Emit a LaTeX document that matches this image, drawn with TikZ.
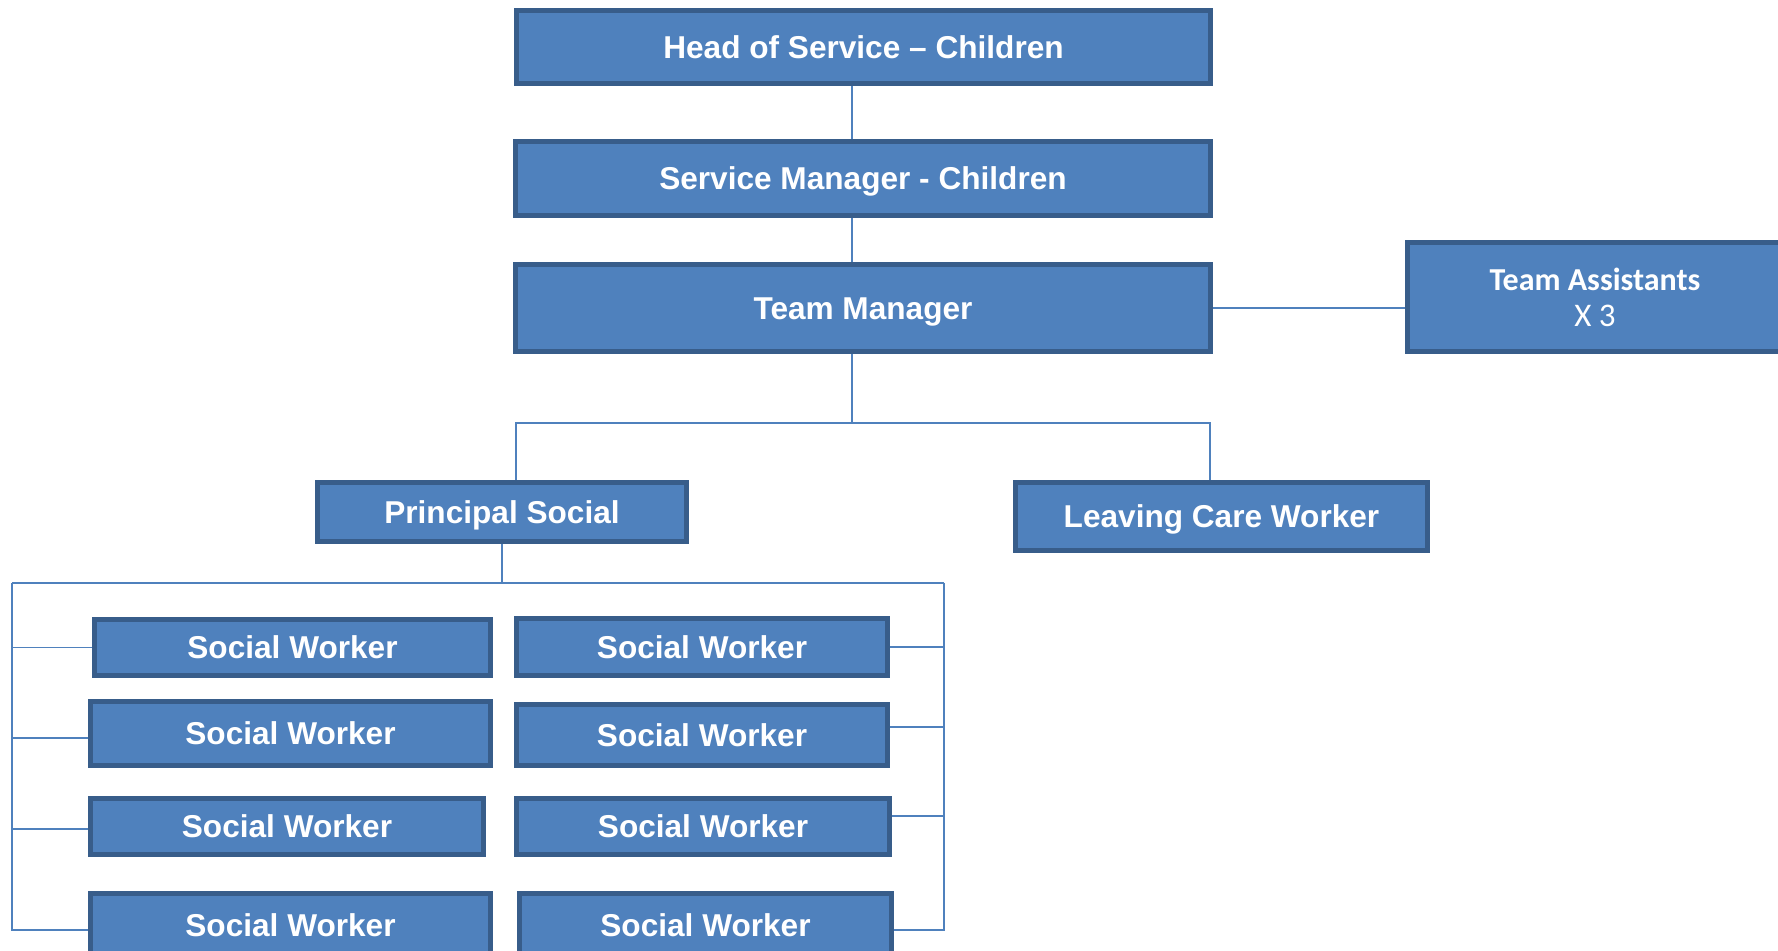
\documentclass[tikz,border=0pt]{standalone}
\usepackage{fontspec}
\setmainfont{Liberation Sans}
\newfontfamily\calibri{Carlito}
\definecolor{boxblue}{HTML}{4F81BD}
\definecolor{boxedge}{HTML}{385D8A}
\tikzset{
  post/.style={draw=boxedge, fill=boxblue, line width=2.5pt, inner sep=0pt,
    text=white, font=\bfseries\fontsize{15.8}{19}\selectfont,
    text height=11.3pt, text depth=0pt},
  link/.style={draw=boxblue, line width=0.85pt}
}
\begin{document}
\begin{tikzpicture}[x=0.5pt, y=-0.5pt]
  \clip (0,0) rectangle (1778,951);
  \fill[white] (0,0) rectangle (1778,951);
  \node[post, minimum width=347pt, minimum height=36.5pt] (head) at (863.5,47) {Head of Service -- Children};
  \node[post, minimum width=347.5pt, minimum height=37pt] (svcmgr) at (863,178.5) {Service Manager - Children};
  \node[post, minimum width=347.5pt, minimum height=43.5pt] (teammgr) at (863,308) {Team Manager};
  \node[post, minimum width=187.5pt, minimum height=54.5pt, text height=, text depth=,
    align=center, font=\calibri\fontsize{16}{19}\selectfont] (assist) at (1595,297)
    {\textbf{Team Assistants}\\[-1pt]\fontsize{16.5}{19}\selectfont X 3};
  \node[post, minimum width=184.5pt, minimum height=29.5pt] (principal) at (502,512) {Principal Social};
  \node[post, minimum width=206pt, minimum height=34pt] (leaving) at (1221.5,516.5) {Leaving Care Worker};
  \node[post, minimum width=198pt, minimum height=28pt] (sw1) at (292.5,647.5) {Social Worker};
  \node[post, minimum width=200pt, minimum height=32pt] (sw2) at (290.5,733.5) {Social Worker};
  \node[post, minimum width=196.5pt, minimum height=28pt] (sw3) at (287,826.5) {Social Worker};
  \node[post, minimum width=200pt, minimum height=31.5pt] (sw4) at (290.5,925) {Social Worker};
  \node[post, minimum width=185.5pt, minimum height=28.5pt] (sw5) at (702,647) {Social Worker};
  \node[post, minimum width=185.5pt, minimum height=30.5pt] (sw6) at (702,735) {Social Worker};
  \node[post, minimum width=186.5pt, minimum height=28pt] (sw7) at (703,826.5) {Social Worker};
  \node[post, minimum width=186pt, minimum height=32pt] (sw8) at (705.5,925.5) {Social Worker};
  \coordinate (tmbus) at (852,423);
  \coordinate (psleft) at (12,583);
  \coordinate (psright) at (944,583);
  \begin{scope}[link]
    \draw (head.south -| tmbus) to (svcmgr.north -| tmbus);
    \draw (svcmgr.south -| tmbus) to (teammgr.north -| tmbus);
    \draw (teammgr.east) to (teammgr.east -| assist.west);
    \draw (teammgr.south -| tmbus) to (tmbus);
    \draw (516,480) |- (tmbus) -| (1210,480);
    \draw (principal.south) to (principal.south |- psleft);
    \draw (psleft) -- (psright);
    \draw (psleft) |- (sw4.west |- 0,930);
    \draw (psright) |- (sw8.east |- 0,930);
    \draw (sw1.west) to (sw1.west -| psleft);
    \draw (sw2.west |- 0,738) to (psleft |- 0,738);
    \draw (sw3.west |- 0,829) to (psleft |- 0,829);
    \draw (sw5.east) to (sw5.east -| psright);
    \draw (sw6.east |- 0,727) to (psright |- 0,727);
    \draw (sw7.east |- 0,816) to (psright |- 0,816);
  \end{scope}
\end{tikzpicture}
\end{document}
